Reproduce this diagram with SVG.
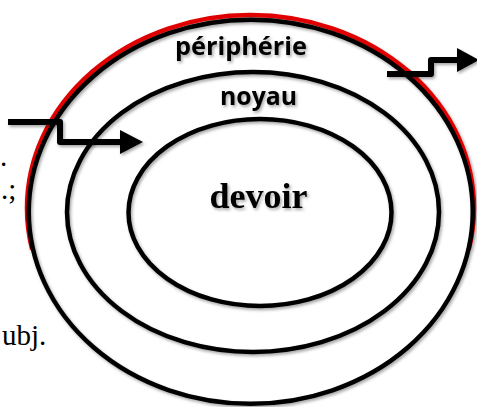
<svg xmlns="http://www.w3.org/2000/svg" width="477" height="407" viewBox="0 0 477 407">
  <defs>
    <filter id="sh" x="-10%" y="-10%" width="120%" height="120%">
      <feDropShadow dx="1.5" dy="2" stdDeviation="1.5" flood-color="#000" flood-opacity="0.35"/>
    </filter>
    <clipPath id="upper">
      <rect x="0" y="0" width="477" height="250"/>
    </clipPath>
    <style>
      .ring { fill: none; stroke: #000; stroke-width: 4.5; }
      .red { fill: none; stroke: #e00000; stroke-width: 4.5; }
      .lbl { font-family: "Open Sans", "Liberation Sans", sans-serif; font-weight: bold; font-size: 25px; fill: #000; text-anchor: middle; }
      .core { font-family: "Liberation Serif", serif; font-weight: bold; font-size: 36px; fill: #000; text-anchor: middle; }
      .side { font-family: "Liberation Serif", serif; font-size: 29px; fill: #000; }
      .arr { fill: none; stroke: #000; stroke-width: 6; stroke-linejoin: round; }
    </style>
  </defs>
  <rect width="477" height="407" fill="#fff"/>

  <g id="side-text">
    <text class="side" x="0" y="166">.</text>
    <text class="side" x="1" y="199">.;</text>
    <text class="side" x="2" y="345">ubj.</text>
  </g>

  <g id="peripherie" filter="url(#sh)">
    <ellipse class="red" cx="250.5" cy="208" rx="223.5" ry="193" clip-path="url(#upper)"/>
    <ellipse class="ring" cx="250.75" cy="211.75" rx="222" ry="192"/>
    <text class="lbl" x="241" y="55" textLength="132" lengthAdjust="spacingAndGlyphs">périphérie</text>
  </g>

  <g id="noyau" filter="url(#sh)">
    <ellipse class="ring" cx="253" cy="212" rx="186" ry="140"/>
    <text class="lbl" x="258.5" y="105" textLength="77" lengthAdjust="spacingAndGlyphs">noyau</text>
  </g>

  <g id="devoir" filter="url(#sh)">
    <ellipse class="ring" cx="260" cy="212.5" rx="131.5" ry="93.5"/>
    <text class="core" x="258.5" y="208">devoir</text>
  </g>

  <g id="connectors" filter="url(#sh)">
    <path class="arr" d="M8,122 H60 V142 H122"/>
    <polygon points="120,130 143,142 120,154" fill="#000"/>
    <path class="arr" d="M387,74 H431 V60 H459"/>
    <polygon points="457,48 479,60 457,72" fill="#000"/>
  </g>
</svg>
